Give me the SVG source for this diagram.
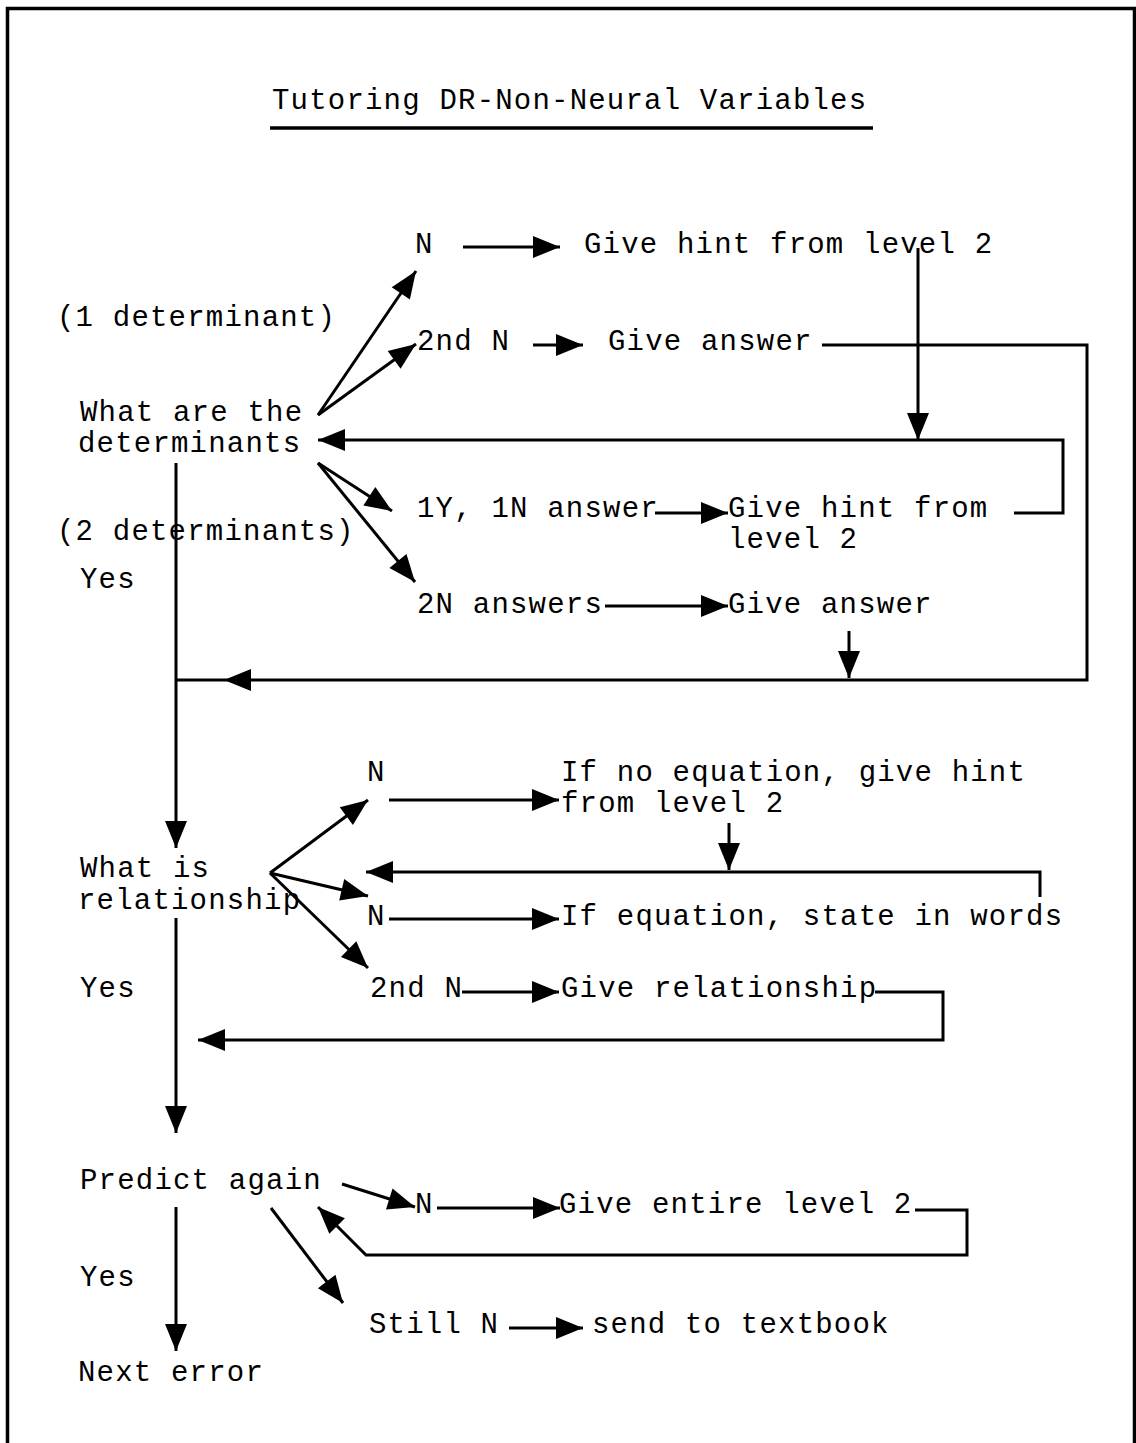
<svg xmlns="http://www.w3.org/2000/svg" width="1136" height="1443" viewBox="0 0 1136 1443">
  <style>
    .t { font-family: "Liberation Mono", "Courier New", monospace; font-size: 29px; letter-spacing: 1.2px; fill: #000; }
    .c { fill: none; stroke: #000; stroke-width: 3; }
    .frame { fill: none; stroke: #000; stroke-width: 3.5; }
  </style>
  <defs>
    <marker id="ah" markerUnits="userSpaceOnUse" markerWidth="30" markerHeight="24" refX="27" refY="11" orient="auto" overflow="visible">
      <path d="M0,0 L27,11 L0,22 z" fill="#000"/>
    </marker>
  </defs>
  <rect width="1136" height="1443" fill="#fff"/>

  <!-- page frame, open at the bottom -->
  <path class="frame" d="M7.5,1450 V8.5 H1134.5 V1450"/>

  <!-- title -->
  <g id="title">
    <text class="t" x="272" y="109">Tutoring DR-Non-Neural Variables</text>
    <line x1="270" y1="128" x2="873" y2="128" stroke="#000" stroke-width="3.5"/>
  </g>

  <!-- section 1: determinants -->
  <g id="q-determinants">
    <text class="t" x="80" y="421">What are the</text>
    <text class="t" x="78" y="452">determinants</text>
  </g>
  <g id="note-1det"><text class="t" x="57" y="326">(1 determinant)</text></g>
  <g id="note-2det"><text class="t" x="57" y="540">(2 determinants)</text></g>
  <g id="n1"><text class="t" x="415" y="253">N</text></g>
  <g id="hint1"><text class="t" x="584" y="253">Give hint from level 2</text></g>
  <g id="n2nd1"><text class="t" x="417" y="350">2nd N</text></g>
  <g id="answer1"><text class="t" x="608" y="350">Give answer</text></g>
  <g id="one-y-one-n"><text class="t" x="417" y="517">1Y, 1N answer</text></g>
  <g id="hint2">
    <text class="t" x="728" y="517">Give hint from</text>
    <text class="t" x="728" y="548">level 2</text>
  </g>
  <g id="two-n"><text class="t" x="417" y="613">2N answers</text></g>
  <g id="answer2"><text class="t" x="728" y="613">Give answer</text></g>
  <g id="yes1"><text class="t" x="80" y="588">Yes</text></g>

  <!-- section 2: relationship -->
  <g id="q-relationship">
    <text class="t" x="80" y="877">What is</text>
    <text class="t" x="78" y="909">relationship</text>
  </g>
  <g id="n3"><text class="t" x="367" y="781">N</text></g>
  <g id="hint3">
    <text class="t" x="561" y="781">If no equation, give hint</text>
    <text class="t" x="561" y="812">from level 2</text>
  </g>
  <g id="n4"><text class="t" x="367" y="925">N</text></g>
  <g id="words"><text class="t" x="561" y="925">If equation, state in words</text></g>
  <g id="n2nd2"><text class="t" x="370" y="997">2nd N</text></g>
  <g id="give-rel"><text class="t" x="561" y="997">Give relationship</text></g>
  <g id="yes2"><text class="t" x="80" y="997">Yes</text></g>

  <!-- section 3: prediction -->
  <g id="q-predict"><text class="t" x="80" y="1189">Predict again</text></g>
  <g id="n5"><text class="t" x="415" y="1213">N</text></g>
  <g id="level2"><text class="t" x="559" y="1213">Give entire level 2</text></g>
  <g id="still-n"><text class="t" x="369" y="1333">Still N</text></g>
  <g id="textbook"><text class="t" x="592" y="1333">send to textbook</text></g>
  <g id="yes3"><text class="t" x="80" y="1286">Yes</text></g>
  <g id="next-error"><text class="t" x="78" y="1381">Next error</text></g>

  <!-- connectors -->
  <g id="connectors">
    <!-- determinants branches -->
    <path class="c" d="M318,415 L416,271" marker-end="url(#ah)"/>
    <path class="c" d="M318,415 L416,344" marker-end="url(#ah)"/>
    <path class="c" d="M318,463 L392,511" marker-end="url(#ah)"/>
    <path class="c" d="M318,463 L415,582" marker-end="url(#ah)"/>
    <path class="c" d="M463,247 L560,247" marker-end="url(#ah)"/>
    <path class="c" d="M533,345 L583,345" marker-end="url(#ah)"/>
    <path class="c" d="M655,513 L728,513" marker-end="url(#ah)"/>
    <path class="c" d="M605,606 L728,606" marker-end="url(#ah)"/>
    <path class="c" d="M918,248 L918,440" marker-end="url(#ah)"/>
    <path class="c" d="M1014,513 H1063 V440 H318" marker-end="url(#ah)"/>
    <path class="c" d="M822,345 H1087 V680 H224" marker-end="url(#ah)"/>
    <path class="c" d="M224,680 H176"/>
    <path class="c" d="M849,631 L849,678" marker-end="url(#ah)"/>
    <path class="c" d="M176,463 L176,848" marker-end="url(#ah)"/>

    <!-- relationship branches -->
    <path class="c" d="M270,873 L368,800" marker-end="url(#ah)"/>
    <path class="c" d="M270,873 L368,896" marker-end="url(#ah)"/>
    <path class="c" d="M270,873 L368,968" marker-end="url(#ah)"/>
    <path class="c" d="M389,800 L559,800" marker-end="url(#ah)"/>
    <path class="c" d="M729,823 L729,870" marker-end="url(#ah)"/>
    <path class="c" d="M1040,897 V872 H366" marker-end="url(#ah)"/>
    <path class="c" d="M389,919 L559,919" marker-end="url(#ah)"/>
    <path class="c" d="M462,992 L559,992" marker-end="url(#ah)"/>
    <path class="c" d="M875,992 H943 V1040 H198" marker-end="url(#ah)"/>
    <path class="c" d="M176,918 L176,1133" marker-end="url(#ah)"/>

    <!-- prediction branches -->
    <path class="c" d="M342,1184 L415,1207" marker-end="url(#ah)"/>
    <path class="c" d="M437,1208 L560,1208" marker-end="url(#ah)"/>
    <path class="c" d="M915,1210 H967 V1255 H366 L318,1207" marker-end="url(#ah)"/>
    <path class="c" d="M271,1208 L343,1303" marker-end="url(#ah)"/>
    <path class="c" d="M509,1328 L583,1328" marker-end="url(#ah)"/>
    <path class="c" d="M176,1207 L176,1351" marker-end="url(#ah)"/>
  </g>
</svg>
